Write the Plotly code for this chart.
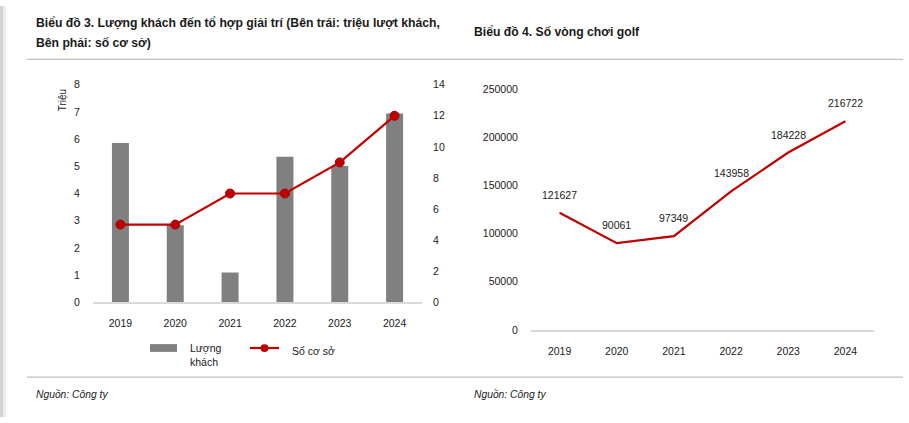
import plotly.graph_objects as go

W, H = 909, 423

years = ["2019", "2020", "2021", "2022", "2023", "2024"]
visitors_mn = [5.86, 2.83, 1.1, 5.35, 5.01, 6.94]
facilities = [5, 5, 7, 7, 9, 12]
golf_rounds = [121627, 90061, 97349, 143958, 184228, 216722]

left_ticks = [0, 1, 2, 3, 4, 5, 6, 7, 8]
right_ticks = [0, 2, 4, 6, 8, 10, 12, 14]
golf_ticks = [0, 50000, 100000, 150000, 200000, 250000]

FONT = "Liberation Sans, Arial, sans-serif"
RED = "#C00000"
GRAY = "#808080"
TXT = "#1a1a1a"


def px(x):
    return x / W


def py(y):
    return 1 - y / H


fig = go.Figure()

fig.add_trace(go.Bar(x=years, y=visitors_mn, marker=dict(color=GRAY, line=dict(width=0)),
                     width=0.31, xaxis="x", yaxis="y", name="Lượng khách", showlegend=False))
fig.add_trace(go.Scatter(x=years, y=facilities, mode="lines+markers", xaxis="x", yaxis="y2",
                         line=dict(color=RED, width=2.2),
                         marker=dict(size=9, color=RED, line=dict(color="#a00010", width=1)),
                         name="Số cơ sở", showlegend=False))
fig.add_trace(go.Scatter(x=years, y=golf_rounds, mode="lines", xaxis="x3", yaxis="y3",
                         line=dict(color=RED, width=2.2), name="Số vòng chơi golf", showlegend=False))

tickfont = dict(family=FONT, size=10.5, color=TXT)

fig.update_layout(
    width=W, height=H, margin=dict(l=0, r=0, t=0, b=0),
    paper_bgcolor="white", plot_bgcolor="white",
    font=dict(family=FONT, color=TXT),
    xaxis=dict(domain=[px(93), px(422)], type="category", range=[-0.5, 5.5],
               showline=True, linecolor="#d9d9d9", linewidth=1.5, showgrid=False,
               ticks="outside", ticklen=10, tickcolor="rgba(0,0,0,0)", tickfont=tickfont),
    yaxis=dict(domain=[py(305), py(81)], range=[0, 8], tickvals=left_ticks, showgrid=False,
               zeroline=False, ticks="outside", ticklen=10, tickcolor="rgba(0,0,0,0)",
               tickfont=tickfont),
    yaxis2=dict(overlaying="y", side="right", range=[0, 14], tickvals=right_ticks,
                showgrid=False, zeroline=False, ticks="outside", ticklen=8,
                tickcolor="rgba(0,0,0,0)", tickfont=tickfont, anchor="x"),
    xaxis3=dict(domain=[px(531), px(874)], type="category", range=[-0.5, 5.5], anchor="y3",
                showline=True, linecolor="#d9d9d9", linewidth=1.5, showgrid=False,
                ticks="outside", ticklen=11, tickcolor="rgba(0,0,0,0)", tickfont=tickfont),
    yaxis3=dict(domain=[py(333.3), py(85.7)], range=[0, 250000], tickvals=golf_ticks,
                tickformat="d", anchor="x3", showgrid=False, zeroline=False, ticks="outside",
                ticklen=10, tickcolor="rgba(0,0,0,0)", tickfont=tickfont),
)

# data labels for golf rounds (category axis -> serial index)
for i, v in enumerate(golf_rounds):
    fig.add_annotation(x=i, y=v, xref="x3", yref="y3", text=str(v), showarrow=False,
                       xanchor="center", yanchor="middle",
                       yshift=18, font=dict(family=FONT, size=10.5, color=TXT))

ann = []
title_font = dict(family=FONT, size=12.2, color=TXT, weight="bold")
ann.append(dict(x=px(35), y=py(18), text="Biểu đồ 3. Lượng khách đến tổ hợp giải trí (Bên trái: triệu lượt khách,",
                font=title_font))
ann.append(dict(x=px(35), y=py(38), text="Bên phải: số cơ sở)", font=title_font))
ann.append(dict(x=px(473), y=py(27), text="Biểu đồ 4. Số vòng chơi golf", font=title_font))
src_font = dict(family=FONT, size=10.3, color=TXT, style="italic")
ann.append(dict(x=px(35), y=py(400), text="Nguồn: Công ty", font=src_font))
ann.append(dict(x=px(473), y=py(400), text="Nguồn: Công ty", font=src_font))
ann.append(dict(x=px(189), y=py(359), text="Lượng<br>khách", font=dict(family=FONT, size=10.5, color=TXT)))
ann.append(dict(x=px(291), y=py(355), text="Số cơ sở", font=dict(family=FONT, size=10.5, color=TXT)))
for a in ann:
    a.update(xref="paper", yref="paper", xanchor="left", yanchor="middle", showarrow=False,
             align="left", borderpad=0)
    fig.add_annotation(**a)

fig.add_annotation(x=px(62), y=py(97), xref="paper", yref="paper", text="Triệu", textangle=-90,
                   showarrow=False, xanchor="center", yanchor="middle",
                   font=dict(family=FONT, size=10, color=TXT))

shapes = [
    dict(type="line", x0=px(27), x1=px(903), y0=py(55), y1=py(55), line=dict(color="#bfbfbf", width=1.3)),
    dict(type="line", x0=px(27), x1=px(903), y0=py(382), y1=py(382), line=dict(color="#bfbfbf", width=1.3)),
    dict(type="rect", x0=0, x1=px(3), y0=0, y1=1, fillcolor="#d4d4d4", line=dict(width=0)),
    dict(type="rect", x0=px(3), x1=px(6), y0=0, y1=1, fillcolor="#ececec", line=dict(width=0)),
    dict(type="rect", x0=px(150), x1=px(177), y0=py(356), y1=py(348), fillcolor=GRAY, line=dict(width=0)),
    dict(type="line", x0=px(250), x1=px(279), y0=py(352), y1=py(352), line=dict(color=RED, width=2.2)),
    dict(type="circle", x0=px(260.5), x1=px(268.5), y0=py(356), y1=py(348), fillcolor=RED,
         line=dict(color=RED, width=0)),
]
for s in shapes:
    s.update(xref="paper", yref="paper")
    fig.add_shape(**s)

fig.write_html("out.html", config={"displayModeBar": False},
               post_script="document.body.style.margin='0';document.body.style.overflow='hidden';")
